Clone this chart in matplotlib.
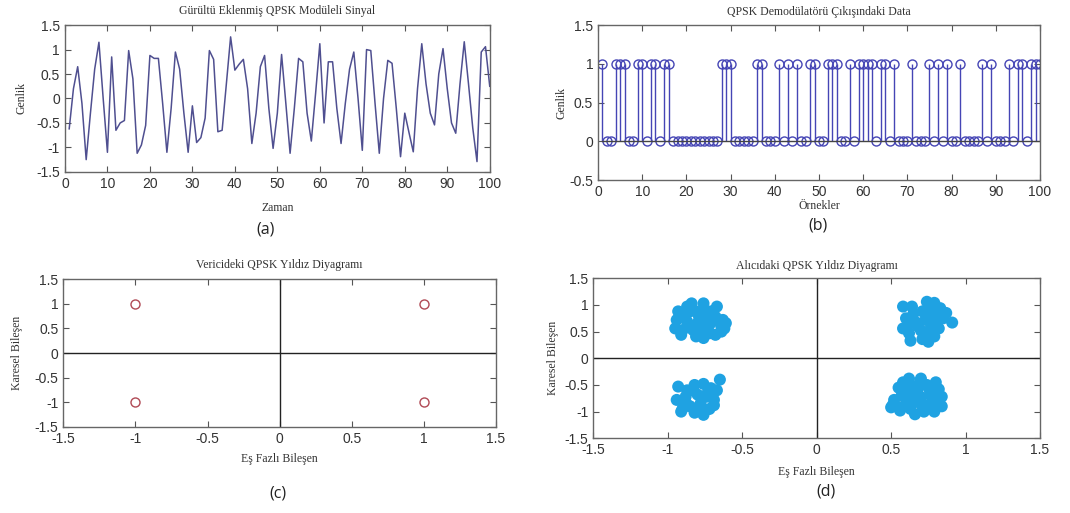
import numpy as np
import matplotlib
matplotlib.use('Agg')
import matplotlib.pyplot as plt

# (a) noisy QPSK modulated signal, samples 1..100
zaman = np.arange(1, 101)
sinyal = [-0.62, 0.2, 0.65, -0.1, -1.25, -0.3, 0.6, 1.15, 0.0, -1.1,
          0.85, -0.65, -0.5, -0.45, 0.98, 0.4, -1.12, -0.95, -0.55, 0.88,
          0.82, 0.82, -0.1, -1.1, -0.2, 0.95, 0.6, -0.3, -1.1, -0.15,
          -0.9, -0.8, -0.4, 0.98, 0.8, -0.68, -0.65, 0.3, 1.26, 0.58,
          0.7, 0.8, 0.2, -0.92, -0.3, 0.65, 0.88, -0.2, -1.02, -0.3,
          0.9, -0.1, -1.12, -0.2, 0.82, 0.75, -0.3, -0.87, 0.1, 1.12,
          -0.5, 0.75, 0.75, -0.2, -0.92, -0.1, 0.6, 0.95, 0.0, -1.06,
          1.0, 0.98, -0.1, -1.12, 0.0, 0.78, 0.72, -0.2, -1.19, -0.3,
          -0.7, -1.09, 0.2, 1.12, 0.3, -0.3, -0.54, 0.5, 1.02, 0.2,
          -0.5, -0.71, 0.3, 1.16, 0.3, -0.6, -1.29, 0.95, 1.06, 0.25]

# (b) demodulated bits, samples 1..100
ornekler = np.arange(1, 101)
birler = [1, 4, 5, 6, 9, 10, 12, 13, 15, 16, 28, 29, 30, 36, 37, 41, 43, 45,
          48, 49, 52, 53, 54, 57, 59, 60, 61, 62, 64, 65, 67, 71, 75, 77, 79,
          82, 87, 89, 93, 95, 96, 98, 99, 100]
data = [1 if n in birler else 0 for n in ornekler]

# (c) transmitter constellation
tx_i = [-1, 1, -1, 1]
tx_q = [1, 1, -1, -1]

# (d) receiver constellation
rx_tl = [(-0.84, 1.03), (-0.76, 1.03), (-0.67, 0.97), (-0.93, 0.88), (-0.85, 0.88),
         (-0.76, 0.84), (-0.68, 0.78), (-0.63, 0.72), (-0.95, 0.56), (-0.87, 0.69),
         (-0.80, 0.66), (-0.72, 0.63), (-0.64, 0.59), (-0.91, 0.44), (-0.81, 0.41),
         (-0.68, 0.44), (-0.83, 0.53), (-0.75, 0.50), (-0.89, 0.78), (-0.79, 0.78),
         (-0.71, 0.88), (-0.61, 0.66), (-0.94, 0.72), (-0.74, 0.72), (-0.82, 0.56),
         (-0.90, 0.53), (-0.64, 0.50), (-0.76, 0.38), (-0.81, 0.88), (-0.87, 0.97),
         (-0.72, 0.47), (-0.62, 0.56), (-0.78, 0.60), (-0.70, 0.69), (-0.86, 0.62)]
rx_tr = [(0.58, 0.97), (0.64, 0.97), (0.60, 0.75), (0.58, 0.56), (0.62, 0.47),
         (0.63, 0.33), (0.67, 0.67), (0.71, 0.88), (0.74, 1.06), (0.79, 1.04),
         (0.76, 0.91), (0.83, 0.94), (0.79, 0.80), (0.73, 0.72), (0.77, 0.61),
         (0.81, 0.69), (0.91, 0.67), (0.85, 0.75), (0.70, 0.52), (0.74, 0.45),
         (0.71, 0.36), (0.75, 0.31), (0.79, 0.41), (0.68, 0.60), (0.82, 0.56),
         (0.65, 0.84), (0.76, 0.53), (0.87, 0.85), (0.62, 0.64)]
rx_bl = [(-0.93, -0.53), (-0.87, -0.60), (-0.82, -0.50), (-0.76, -0.48), (-0.71, -0.56),
         (-0.65, -0.40), (-0.67, -0.60), (-0.94, -0.78), (-0.88, -0.72), (-0.80, -0.68),
         (-0.74, -0.72), (-0.69, -0.78), (-0.91, -1.00), (-0.85, -0.90), (-0.78, -0.85),
         (-0.72, -0.95), (-0.82, -1.02), (-0.76, -1.06), (-0.88, -0.82), (-0.69, -0.88),
         (-0.84, -0.60), (-0.79, -0.95), (-0.73, -0.63), (-0.90, -0.94)]
rx_br = [(0.62, -0.38), (0.70, -0.38), (0.80, -0.45), (0.55, -0.55), (0.64, -0.52),
         (0.74, -0.50), (0.82, -0.58), (0.51, -0.88), (0.57, -0.70), (0.66, -0.66),
         (0.76, -0.68), (0.84, -0.72), (0.56, -0.98), (0.60, -0.85), (0.68, -0.82),
         (0.74, -0.88), (0.82, -0.85), (0.66, -1.05), (0.72, -1.00), (0.79, -1.00),
         (0.52, -0.78), (0.70, -0.73), (0.60, -0.62), (0.78, -0.80), (0.63, -0.95),
         (0.84, -0.90), (0.58, -0.45), (0.68, -0.58), (0.76, -0.60), (0.55, -0.92),
         (0.71, -0.90), (0.64, -0.75), (0.81, -0.65), (0.69, -0.47), (0.50, -0.92)]

SERIF = 'Liberation Serif'
SANS = 'Liberation Sans'
TITLE_FS = 8.5
LABEL_FS = 8.5
TICK_FS = 10


def matlab_axes(fig, rect):
    ax = fig.add_axes(rect)
    ax.tick_params(direction='in', top=True, right=True, length=4,
                   labelsize=TICK_FS, colors='#555555', labelcolor='#333333')
    for s in ax.spines.values():
        s.set_color('#666666')
        s.set_linewidth(1.0)
    return ax


def style_ticks(ax):
    for lbl in ax.get_xticklabels() + ax.get_yticklabels():
        lbl.set_fontfamily(SANS)


fig = plt.figure(figsize=(10.7, 5.13), dpi=100)

# (a)
ax = matlab_axes(fig, [0.0607, 0.665, 0.397, 0.286])
ax.plot(zaman, sinyal, color='#4f4f90', linewidth=1.1)
ax.set_xlim(0, 100)
ax.set_ylim(-1.5, 1.5)
ax.set_xticks(np.arange(0, 101, 10))
ax.set_yticks([-1.5, -1, -0.5, 0, 0.5, 1, 1.5])
ax.set_yticklabels(['-1.5', '-1', '-0.5', '0', '0.5', '1', '1.5'])
style_ticks(ax)
ax.set_title('Gürültü Eklenmiş QPSK Modüleli Sinyal', fontfamily=SERIF,
             fontsize=TITLE_FS, pad=8, color='#333333')
ax.set_xlabel('Zaman', fontfamily=SERIF, fontsize=LABEL_FS, labelpad=8, color='#333333')
ax.set_ylabel('Genlik', fontfamily=SERIF, fontsize=LABEL_FS, labelpad=6, color='#333333')

# (b)
ax = matlab_axes(fig, [0.5589, 0.649, 0.413, 0.302])
ml, sl, bl = ax.stem(ornekler, data, linefmt='-', markerfmt='o', basefmt='-')
plt.setp(sl, color='#4545b5', linewidth=1.0)
plt.setp(ml, markerfacecolor='none', markeredgecolor='#4545b5', markersize=6.5,
         markeredgewidth=1.0)
plt.setp(bl, color='#444444', linewidth=1.0)
ax.set_xlim(0, 100)
ax.set_ylim(-0.5, 1.5)
ax.set_xticks(np.arange(0, 101, 10))
ax.set_yticks([-0.5, 0, 0.5, 1, 1.5])
ax.set_yticklabels(['-0.5', '0', '0.5', '1', '1.5'])
style_ticks(ax)
ax.set_title('QPSK Demodülatörü Çıkışındaki Data', fontfamily=SERIF,
             fontsize=TITLE_FS, pad=7, color='#333333')
ax.set_xlabel('Örnekler', fontfamily=SERIF, fontsize=LABEL_FS, labelpad=1, color='#333333')
ax.set_ylabel('Genlik', fontfamily=SERIF, fontsize=LABEL_FS, labelpad=1, color='#333333')

ticks15 = [-1.5, -1, -0.5, 0, 0.5, 1, 1.5]
labels15 = ['-1.5', '-1', '-0.5', '0', '0.5', '1', '1.5']

# (c)
ax = matlab_axes(fig, [0.0592, 0.1682, 0.4044, 0.2873])
ax.axhline(0, color='#222222', linewidth=1.0)
ax.axvline(0, color='#222222', linewidth=1.0)
ax.plot(tx_i, tx_q, linestyle='none', marker='o', markersize=6.5,
        markerfacecolor='none', markeredgecolor='#b04a55', markeredgewidth=1.0)
ax.set_xlim(-1.5, 1.5)
ax.set_ylim(-1.5, 1.5)
ax.set_xticks(ticks15)
ax.set_xticklabels(labels15)
ax.set_yticks(ticks15)
ax.set_yticklabels(labels15)
style_ticks(ax)
ax.set_title('Vericideki QPSK Yıldız Diyagramı', fontfamily=SERIF,
             fontsize=TITLE_FS, pad=8, color='#333333')
ax.set_xlabel('Eş Fazlı Bileşen', fontfamily=SERIF, fontsize=LABEL_FS, labelpad=5, color='#333333')
ax.set_ylabel('Karesel Bileşen', fontfamily=SERIF, fontsize=LABEL_FS, labelpad=8, color='#333333')

# (d)
ax = matlab_axes(fig, [0.5545, 0.1456, 0.4175, 0.3119])
ax.axhline(0, color='#222222', linewidth=1.0)
ax.axvline(0, color='#222222', linewidth=1.0)
for cluster in (rx_tl, rx_tr, rx_bl, rx_br):
    xs = [p[0] for p in cluster]
    ys = [p[1] for p in cluster]
    ax.scatter(xs, ys, s=75, color='#1fa2e2', edgecolors='none', zorder=3)
ax.set_xlim(-1.5, 1.5)
ax.set_ylim(-1.5, 1.5)
ax.set_xticks(ticks15)
ax.set_xticklabels(labels15)
ax.set_yticks(ticks15)
ax.set_yticklabels(labels15)
style_ticks(ax)
ax.set_title('Alıcıdaki QPSK Yıldız Diyagramı', fontfamily=SERIF,
             fontsize=TITLE_FS, pad=7, color='#333333')
ax.set_xlabel('Eş Fazlı Bileşen', fontfamily=SERIF, fontsize=LABEL_FS, labelpad=6, color='#333333')
ax.set_ylabel('Karesel Bileşen', fontfamily=SERIF, fontsize=LABEL_FS, labelpad=4, color='#333333')

# panel letters
for txt, x, y in [('(a)', 266, 229), ('(b)', 818, 225), ('(c)', 278, 493), ('(d)', 826, 491)]:
    fig.text(x / 1070, 1 - y / 513, txt, ha='center', va='center',
             fontfamily='Open Sans', fontsize=11.5, color='#222222')

fig.savefig('out.png', dpi=100)
